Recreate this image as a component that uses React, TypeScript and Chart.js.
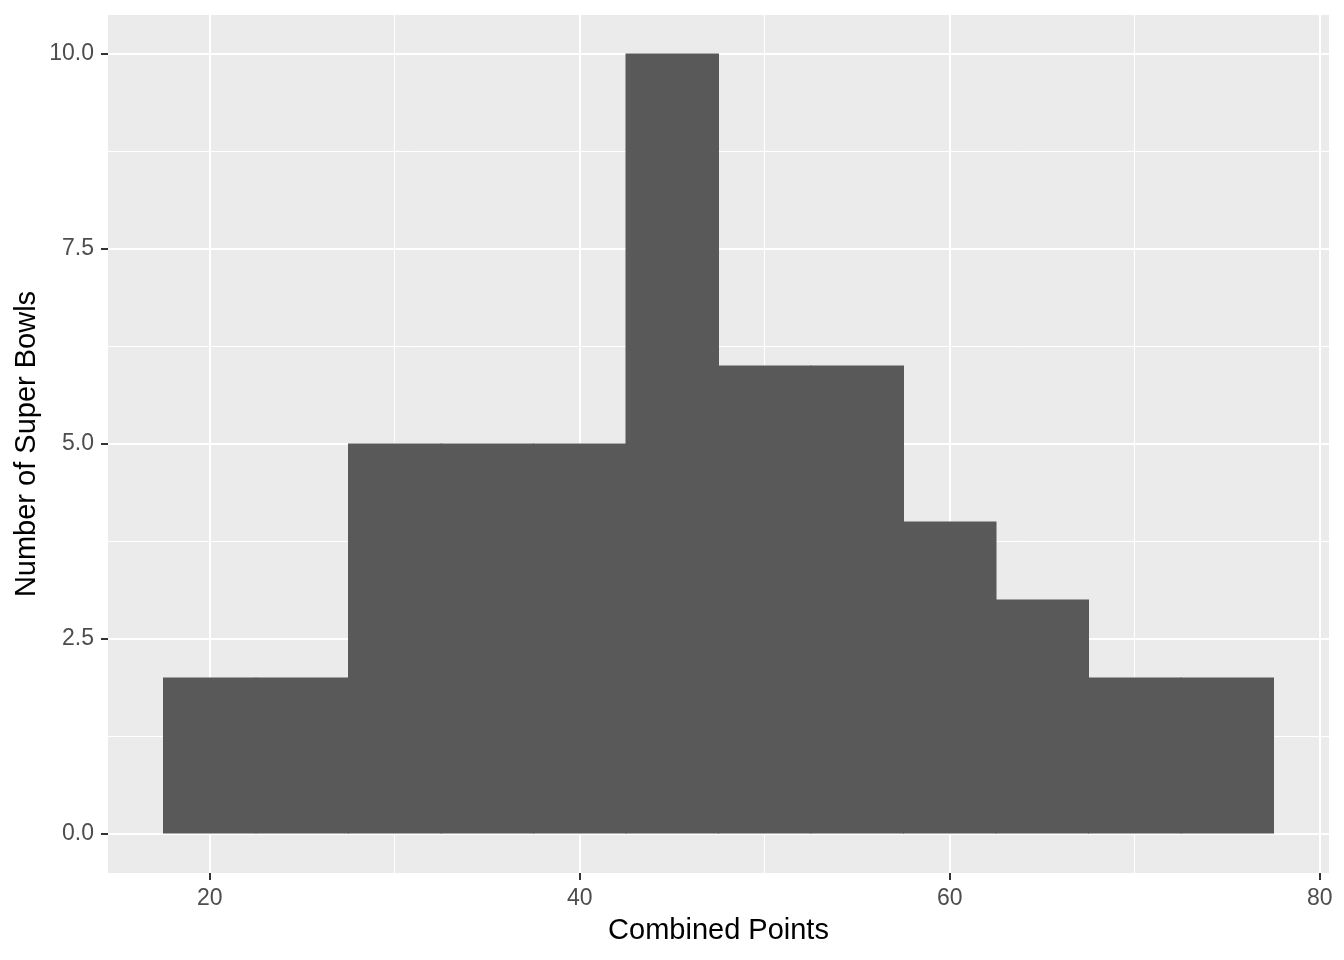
import React, { useEffect, useRef } from "react";
import { Chart, registerables } from "chart.js";

Chart.register(...registerables);

const binCenters = [20, 25, 30, 35, 40, 45, 50, 55, 60, 65, 70, 75];
const counts = [2, 2, 5, 5, 5, 10, 6, 6, 4, 3, 2, 2];
const xTickValues = [20, 30, 40, 50, 60, 70, 80];
const xMajor = [20, 40, 60, 80];
const yTickValues = [0, 1.25, 2.5, 3.75, 5, 6.25, 7.5, 8.75, 10];
const yMajor = [0, 2.5, 5, 7.5, 10];

const FONT = "'Liberation Sans', Arial, Helvetica, sans-serif";

const panelBg = {
  id: "panelBg",
  beforeDraw(chart: any) {
    const { ctx, chartArea } = chart;
    if (!chartArea) return;
    ctx.save();
    ctx.fillStyle = "#EBEBEB";
    ctx.fillRect(chartArea.left, chartArea.top, chartArea.right - chartArea.left, chartArea.bottom - chartArea.top);
    ctx.restore();
  },
};

export default function App() {
  const ref = useRef<HTMLCanvasElement | null>(null);
  useEffect(() => {
    if (!ref.current) return;
    const isMajorX = (v: number) => xMajor.includes(v);
    const isMajorY = (v: number) => yMajor.includes(v);
    const chart = new Chart(ref.current, {
      type: "bar",
      data: {
        datasets: [
          {
            data: binCenters.map((x, i) => ({ x, y: counts[i] })),
            backgroundColor: "#595959",
            borderWidth: 0,
            inflateAmount: 0.5,
            barPercentage: 1,
            categoryPercentage: 1,
          },
        ],
      },
      options: {
        animation: false,
        responsive: false,
        events: [],
        layout: { padding: { top: 15, right: 15, left: 0, bottom: 0 } },
        plugins: { legend: { display: false }, tooltip: { enabled: false } },
        scales: {
          x: {
            type: "linear",
            min: 14.5,
            max: 80.5,
            offset: false,
            afterBuildTicks: (scale: any) => {
              scale.ticks = xTickValues.map((v) => ({ value: v }));
            },
            afterFit: (scale: any) => {
              scale.height = 87;
              scale.paddingLeft = 0;
              scale.paddingRight = 0;
            },
            border: { display: false },
            grid: {
              color: "#FFFFFF",
              lineWidth: (c: any) => (isMajorX(c.tick?.value) ? 2 : 1),
              tickColor: (c: any) => (isMajorX(c.tick?.value) ? "#333333" : "rgba(0,0,0,0)"),
              tickWidth: 2,
              tickLength: 7,
              drawTicks: true,
              offset: false,
            },
            ticks: {
              autoSkip: false,
              maxRotation: 0,
              padding: 5,
              color: "#4D4D4D",
              font: { family: FONT, size: 23 },
              callback: (v: any) => (isMajorX(Number(v)) ? String(v) : ""),
            },
            title: {
              display: true,
              text: "Combined Points",
              color: "#000000",
              font: { family: FONT, size: 29 },
              padding: { top: 0, bottom: 12 },
            },
          },
          y: {
            type: "linear",
            min: -0.5,
            max: 10.5,
            afterBuildTicks: (scale: any) => {
              scale.ticks = yTickValues.map((v) => ({ value: v }));
            },
            afterFit: (scale: any) => {
              scale.width = 108;
              scale.paddingTop = 0;
              scale.paddingBottom = 0;
            },
            border: { display: false },
            grid: {
              color: "#FFFFFF",
              lineWidth: (c: any) => (isMajorY(c.tick?.value) ? 2 : 1),
              tickColor: (c: any) => (isMajorY(c.tick?.value) ? "#333333" : "rgba(0,0,0,0)"),
              tickWidth: 2,
              tickLength: 7,
              drawTicks: true,
            },
            ticks: {
              autoSkip: false,
              padding: 7,
              color: "#4D4D4D",
              font: { family: FONT, size: 23 },
              callback: (v: any) => (isMajorY(Number(v)) ? Number(v).toFixed(1) : ""),
            },
            title: {
              display: true,
              text: "Number of Super Bowls",
              color: "#000000",
              font: { family: FONT, size: 29 },
              padding: { top: 10, bottom: 0 },
            },
          },
        },
      },
      plugins: [panelBg],
    } as any);
    return () => chart.destroy();
  }, []);
  return (
    <div style={{ position: "fixed", left: 0, top: 0, width: 1344, height: 960, background: "#FFFFFF" }}>
      <canvas ref={ref} width={1344} height={960} style={{ display: "block", width: 1344, height: 960 }} />
    </div>
  );
}
